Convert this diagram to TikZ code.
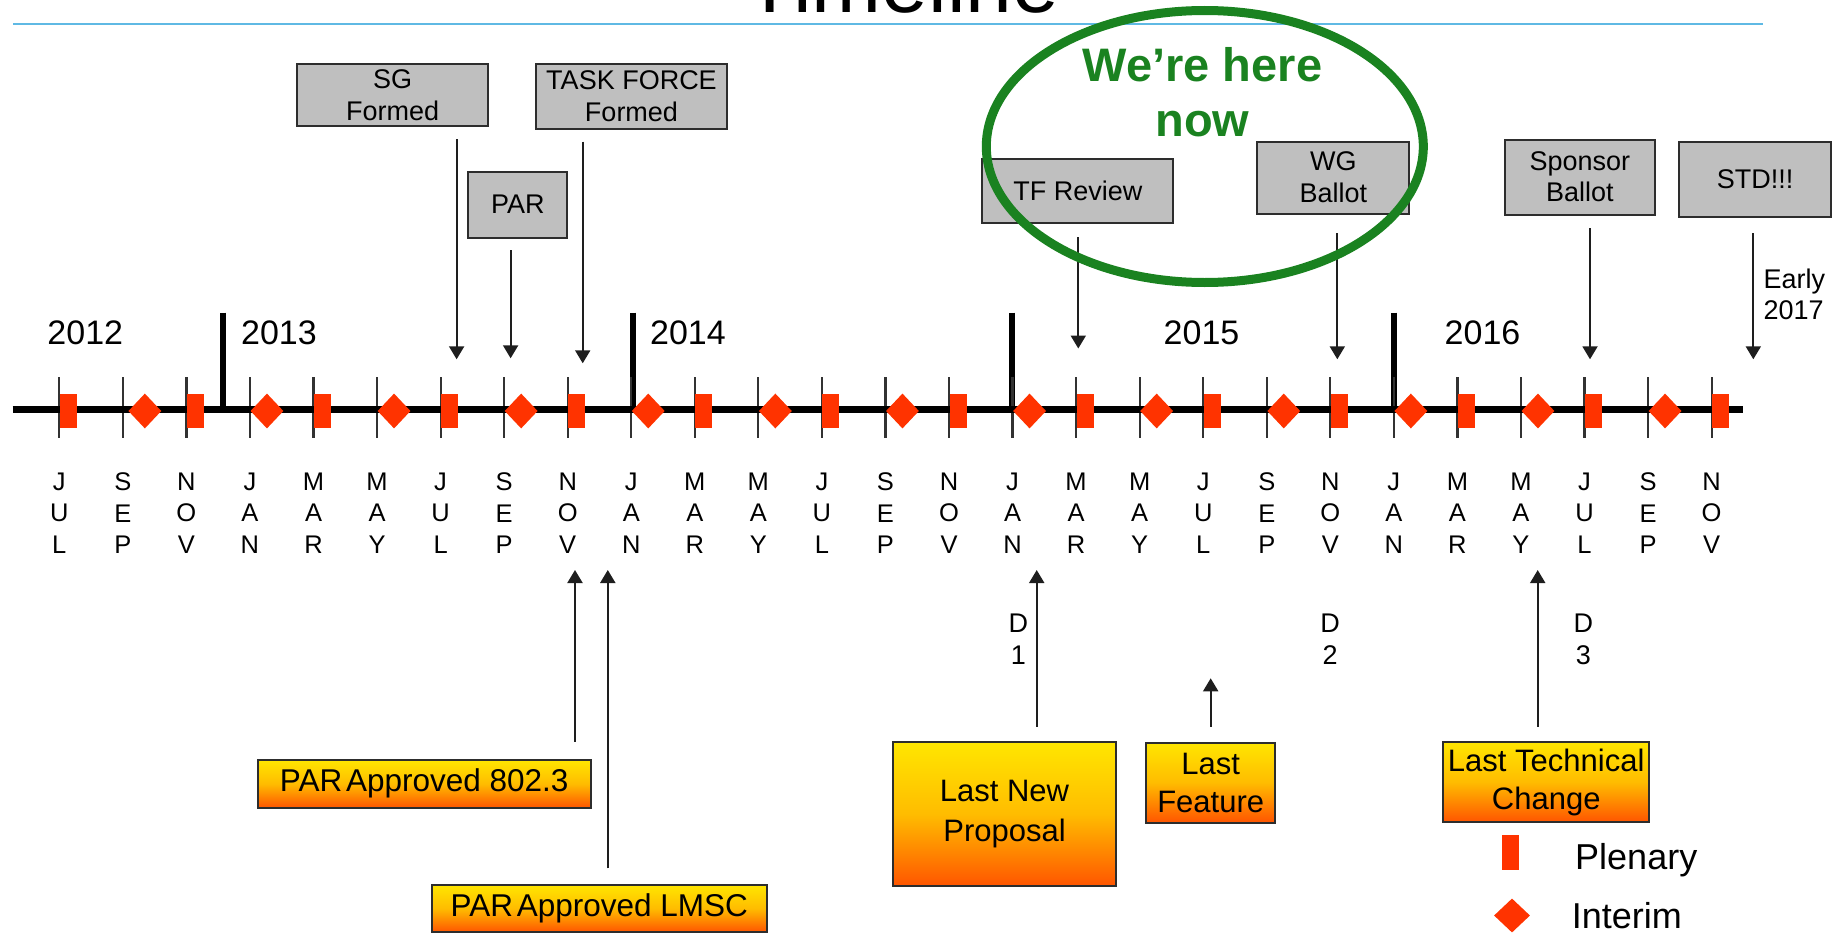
\documentclass[tikz,border=0pt]{standalone}
\usepackage{fontspec}
\setmainfont{Liberation Sans}
\usetikzlibrary{shapes.geometric,arrows.meta}
\definecolor{mkred}{RGB}{255,51,0}
\definecolor{boxgray}{RGB}{191,191,191}
\definecolor{boxline}{RGB}{45,45,45}
\definecolor{herogreen}{RGB}{26,130,32}
\definecolor{ruleblue}{RGB}{95,185,228}
\definecolor{oTop}{RGB}{255,230,0}
\definecolor{oMid}{RGB}{255,188,0}
\definecolor{oBot}{RGB}{255,85,0}
\definecolor{arrowgray}{RGB}{30,30,30}
\definecolor{tickgray}{RGB}{50,50,50}
\newcommand{\fs}[2]{\fontsize{#1}{#2}\selectfont}
\begin{document}
\begin{tikzpicture}[x=1pt,y=-1pt,
  graybox/.style={draw=boxline,line width=2pt,fill=boxgray,inner sep=0pt,align=center,font=\fs{27}{32}},
  orangebox/.style={draw=boxline,line width=2pt,top color=oTop,bottom color=oBot,middle color=oMid,inner sep=0pt,align=center,font=\fs{31}{38}},
  arr/.style={line width=2pt,draw=arrowgray,-{Triangle[width=15pt,length=13pt]}},
  tickline/.style={line width=2.2pt,draw=tickgray},
  yearsep/.style={line width=6pt,draw=black},
  plenary/.style={rectangle,fill=mkred,minimum width=17pt,minimum height=34pt,inner sep=0pt},
  interim/.style={diamond,fill=mkred,minimum width=33pt,minimum height=35pt,inner sep=0pt},
  month/.style={font=\fs{25.5}{31.5},align=center,inner sep=0pt,anchor=north},
  year/.style={font=\fs{34}{40},inner sep=0pt,anchor=base},
  dlabel/.style={font=\fs{27}{31.7},align=center,inner sep=0pt,anchor=north},
]
\useasboundingbox (0,0) rectangle (1846,934);
\clip (0,0) rectangle (1846,934);

% title and rule
\node[font=\fs{84}{90},inner sep=0pt,anchor=base] (title) at (902,12.5) {Timeline};
\coordinate (ruleL) at (13,24);
\coordinate (ruleR) at (1763,24);
\draw[ruleblue,line width=2.5pt] (ruleL) -- (ruleR);

% upper grey boxes
\node[graybox,minimum width=191pt,minimum height=62pt] (sg) at (392.6,95) {SG\\Formed};
\node[graybox,minimum width=191pt,minimum height=65pt] (tf) at (631.5,96.3) {TASK FORCE\\Formed};
\node[graybox,minimum width=99pt,minimum height=66pt] (par) at (517.9,204.5) {PAR};
\node[graybox,minimum width=191pt,minimum height=64pt] (tfr) at (1077.9,190.8) {TF Review};
\node[graybox,minimum width=152pt,minimum height=72pt] (wg) at (1333.4,177.5) {WG\\Ballot};
\node[graybox,minimum width=150pt,minimum height=75pt,font=\fs{27}{30.6}] (sb) at (1579.9,177) {Sponsor\\Ballot};
\node[graybox,minimum width=152pt,minimum height=75pt] (std) at (1755,179.2) {STD!!!};

% down arrows
\coordinate (sgA) at (456.6,139.3);  \coordinate (sgB) at (456.6,359.3);
\coordinate (parA) at (510.6,250);   \coordinate (parB) at (510.6,358.3);
\coordinate (tfA) at (582.7,141.7);  \coordinate (tfB) at (582.7,363.3);
\coordinate (tfrA) at (1078.3,237.3); \coordinate (tfrB) at (1078.3,348.5);
\coordinate (wgA) at (1337.3,233.3); \coordinate (wgB) at (1337.3,359.3);
\coordinate (sbA) at (1590,228.3);   \coordinate (sbB) at (1590,359.3);
\coordinate (stdA) at (1753.3,233.3); \coordinate (stdB) at (1753.3,359.3);
\draw[arr] (sgA) -- (sgB);
\draw[arr] (parA) -- (parB);
\draw[arr] (tfA) -- (tfB);
\draw[arr] (tfrA) -- (tfrB);
\draw[arr] (wgA) -- (wgB);
\draw[arr] (sbA) -- (sbB);
\draw[arr] (stdA) -- (stdB);
\node[font=\fs{27}{31},align=left,inner sep=0pt,anchor=north west] (early) at (1763.3,268.6) {Early\\2017};

% years
\node[year] (y2012) at (85.3,344.3) {2012};
\node[year] (y2013) at (279,344.3) {2013};
\node[year] (y2014) at (688,344.3) {2014};
\node[year] (y2015) at (1201.5,344.3) {2015};
\node[year] (y2016) at (1482.5,344.3) {2016};
\draw[yearsep] (222.7,312.7) -- (222.7,409.5);
\draw[yearsep] (632.6,312.7) -- (632.6,409.5);
\draw[yearsep] (1011.5,312.7) -- (1011.5,409.5);
\draw[yearsep] (1394.2,312.7) -- (1394.2,409.5);

% ticks and axis
\foreach \i in {0,...,26} {\draw[tickline] ({59.3+63.55*\i},377) -- ({59.3+63.55*\i},438);}
\coordinate (axL) at (12.7,409.5);
\coordinate (axR) at (1742.6,409.5);
\draw[line width=7pt] (axL) -- (axR);

% markers
\foreach \i in {0,2,...,26} {\node[plenary] (pl\i) at ({59.3+63.55*\i+9},411) {};}
\node[interim] (in1) at ({59.3+63.55+22},411) {};
\foreach \i in {3,5,...,25} {\node[interim] (in\i) at ({59.3+63.55*\i+17},411) {};}

% months
\foreach \lab [count=\i from 0] in {{J\\U\\L},{S\\E\\P},{N\\O\\V},
  {J\\A\\N},{M\\A\\R},{M\\A\\Y},{J\\U\\L},{S\\E\\P},{N\\O\\V},
  {J\\A\\N},{M\\A\\R},{M\\A\\Y},{J\\U\\L},{S\\E\\P},{N\\O\\V},
  {J\\A\\N},{M\\A\\R},{M\\A\\Y},{J\\U\\L},{S\\E\\P},{N\\O\\V},
  {J\\A\\N},{M\\A\\R},{M\\A\\Y},{J\\U\\L},{S\\E\\P},{N\\O\\V}}
  {\node[month] (mo\i) at ({59.3+63.55*\i},472.5) {\lab};}

% D labels
\node[dlabel] (d1) at (1018.3,613.7) {D\\1};
\node[dlabel] (d2) at (1330,613.7) {D\\2};
\node[dlabel] (d3) at (1583.3,613.7) {D\\3};

% lower orange boxes
\node[orangebox,minimum width=333pt,minimum height=48pt,font=\fs{31.5}{38}] (pa8023) at (424.2,783.8) {PAR\kern-5pt{} Approved 802.3};
\node[orangebox,minimum width=335pt,minimum height=47pt,font=\fs{31.5}{38}] (palmsc) at (599.3,908.5) {PAR\kern-5pt{} Approved LMSC};
\node[orangebox,minimum width=223pt,minimum height=144pt,font=\fs{31}{40}] (lnp) at (1004.5,814.2) {Last New\\Proposal};
\node[orangebox,minimum width=129pt,minimum height=80pt] (lf) at (1210.7,782.5) {Last\\Feature};
\node[orangebox,minimum width=206pt,minimum height=80pt] (ltc) at (1546.2,782) {Last Technical\\Change};

% up arrows
\coordinate (paA) at (575,741.7);    \coordinate (paB) at (575,570);
\coordinate (plA) at (607.8,868.3);  \coordinate (plB) at (607.8,570);
\coordinate (lnpA) at (1036.7,726.7); \coordinate (lnpB) at (1036.7,570);
\coordinate (lfA) at (1210.7,726.7); \coordinate (lfB) at (1210.7,678.3);
\coordinate (ltcA) at (1537.7,726.7); \coordinate (ltcB) at (1537.7,570);
\draw[arr] (paA) -- (paB);
\draw[arr] (plA) -- (plB);
\draw[arr] (lnpA) -- (lnpB);
\draw[arr] (lfA) -- (lfB);
\draw[arr] (ltcA) -- (ltcB);

% legend
\node[plenary,minimum width=17.6pt,minimum height=35pt] (lgp) at (1510.5,852.5) {};
\node[font=\fs{36}{40},inner sep=0pt,anchor=base west] (lgpt) at (1575,869) {Plenary};
\node[interim,minimum width=36pt,minimum height=34pt] (lgi) at (1512,915.5) {};
\node[font=\fs{36}{40},inner sep=0pt,anchor=base west] (lgit) at (1571.7,928.5) {Interim};

% we're here
\node[ellipse,draw=herogreen,line width=9pt,minimum width=437pt,minimum height=272pt,inner sep=0pt] (here) at (1204.8,146.5) {};
\node[font=\bfseries\fs{47}{55},text=herogreen,align=center,inner sep=0pt,anchor=north] (herelbl) at (1202.5,47.4) {We’re here\\now};
\end{tikzpicture}
\end{document}
